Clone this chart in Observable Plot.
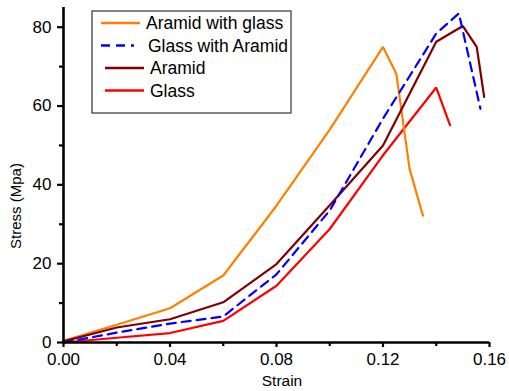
<!DOCTYPE html>
<html>
<head>
<meta charset="utf-8">
<script src="https://cdn.jsdelivr.net/npm/d3@7"></script>
<script src="https://cdn.jsdelivr.net/npm/@observablehq/plot@0.6"></script>
<style>
  html, body { margin: 0; padding: 0; background: #fff; }
  #chart { position: relative; width: 509px; height: 391px; font-family: "Liberation Sans", Arial, sans-serif; }
  #chart svg { display: block; }
  .overlay { position: absolute; left: 0; top: 0; pointer-events: none; }
</style>
</head>
<body>
<div id="chart"></div>
<script>
// Tensile test curves: stress (MPa) against strain for four laminates
const seriesNames = ["Aramid with glass", "Glass with Aramid", "Aramid", "Glass"];
const seriesColors = ["#ff8000", "#0000ff", "#7f0000", "#ff0000"];
const seriesDash = [null, "9,6", null, null];

const aramidGlassStrain = [0, 0.02, 0.04, 0.06, 0.08, 0.10, 0.12, 0.125, 0.13, 0.135];
const aramidGlassStress = [0.4, 4.5, 8.7, 17, 34.7, 54, 75, 68.2, 44, 32.2];

const glassAramidStrain = [0, 0.02, 0.04, 0.06, 0.08, 0.10, 0.12, 0.14, 0.1485, 0.1566];
const glassAramidStress = [0, 2.5, 4.8, 6.6, 17.3, 33.5, 56.8, 78.4, 83.5, 59.3];

const aramidStrain = [0, 0.02, 0.04, 0.06, 0.08, 0.10, 0.12, 0.14, 0.15, 0.1552, 0.158];
const aramidStress = [0.3, 3.8, 5.9, 10.2, 19.9, 34.8, 50, 76.3, 80.3, 75, 62.3];

const glassStrain = [0, 0.02, 0.04, 0.06, 0.08, 0.10, 0.12, 0.14, 0.1452];
const glassStress = [0, 1.2, 2.4, 5.5, 14.4, 28.8, 47.5, 64.7, 55.1];

const xMajorTicks = [0, 0.04, 0.08, 0.12, 0.16];
const xMinorTicks = [0.02, 0.06, 0.10, 0.14];
const yMajorTicks = [0, 20, 40, 60, 80];
const yMinorTicks = [10, 30, 50, 70];

const xTitle = "Strain";
const yTitle = "Stress (Mpa)";

const toRows = (strain, stress, name) => strain.map((s, i) => ({strain: s, stress: stress[i], name}));
const curves = [
  toRows(aramidGlassStrain, aramidGlassStress, seriesNames[0]),
  toRows(glassAramidStrain, glassAramidStress, seriesNames[1]),
  toRows(aramidStrain, aramidStress, seriesNames[2]),
  toRows(glassStrain, glassStress, seriesNames[3])
];

const W = 509, H = 391;
const axisFont = 17;

const lineMarks = curves.map((rows, i) =>
  Plot.line(rows, {
    x: "strain", y: "stress",
    stroke: seriesColors[i], strokeWidth: 2.2,
    strokeDasharray: seriesDash[i] || undefined,
    strokeLinejoin: "miter"
  })
);

// back curves first so the solid Aramid line sits over the dashed one
const drawOrder = [3, 0, 2, 1];

const plot = Plot.plot({
  width: W,
  height: H,
  marginLeft: 63,
  marginRight: 20,
  marginTop: 7,
  marginBottom: 49,
  style: {fontFamily: "'Liberation Sans', Arial, sans-serif", fontSize: axisFont + "px", color: "#000", background: "#fff"},
  x: {domain: [0, 0.16]},
  y: {domain: [0, 85]},
  marks: [
    ...drawOrder.map(i => lineMarks[i]),
    Plot.axisX(xMajorTicks, {tickSize: 5, tickPadding: 5, tickFormat: d3.format(".2f"), strokeWidth: 2.2, label: null, fontSize: axisFont}),
    Plot.axisX(xMinorTicks, {tickSize: 4, strokeWidth: 2.2, tickFormat: () => "", label: null}),
    Plot.axisY(yMajorTicks, {tickSize: 6, tickPadding: 6, tickFormat: d3.format("d"), strokeWidth: 2.2, label: null, fontSize: axisFont}),
    Plot.axisY(yMinorTicks, {tickSize: 4, strokeWidth: 2.2, tickFormat: () => "", label: null}),
    Plot.ruleY([0], {stroke: "#000", strokeWidth: 2.6}),
    Plot.ruleX([0], {stroke: "#000", strokeWidth: 2.6})
  ]
});

const chart = document.getElementById("chart");
chart.appendChild(plot);

// Overlay: axis titles and the boxed legend inside the plot area
const ov = d3.select(chart).append("svg")
  .attr("class", "overlay")
  .attr("width", W).attr("height", H)
  .style("font-family", "'Liberation Sans', Arial, sans-serif");

ov.append("text")
  .attr("x", 282).attr("y", 386)
  .attr("text-anchor", "middle")
  .attr("font-size", 15.5)
  .attr("fill", "#000")
  .text(xTitle);

ov.append("text")
  .attr("transform", "translate(21,206) rotate(-90)")
  .attr("text-anchor", "middle")
  .attr("font-size", 15)
  .attr("fill", "#000")
  .text(yTitle);

const legend = ov.append("g").attr("transform", "translate(92,11)");
legend.append("rect")
  .attr("width", 199).attr("height", 102)
  .attr("fill", "#fff")
  .attr("stroke", "#333").attr("stroke-width", 1.2);

seriesNames.forEach((name, i) => {
  const cy = 12 + i * 22.5;
  const indent = i < 2 ? 0 : 4;
  const row = legend.append("g").attr("transform", `translate(0,${cy})`);
  row.append("line")
    .attr("x1", 9 + indent).attr("x2", i === 1 ? 42 : 48 + indent)
    .attr("y1", 0).attr("y2", 0)
    .attr("stroke", seriesColors[i]).attr("stroke-width", 2.5)
    .attr("stroke-dasharray", seriesDash[i] || null);
  row.append("text")
    .attr("x", 54 + indent + (i === 1 ? 2 : 0)).attr("y", 0)
    .attr("dy", "0.36em")
    .attr("font-size", 17.5)
    .attr("fill", "#000")
    .text(name);
});
</script>
</body>
</html>
